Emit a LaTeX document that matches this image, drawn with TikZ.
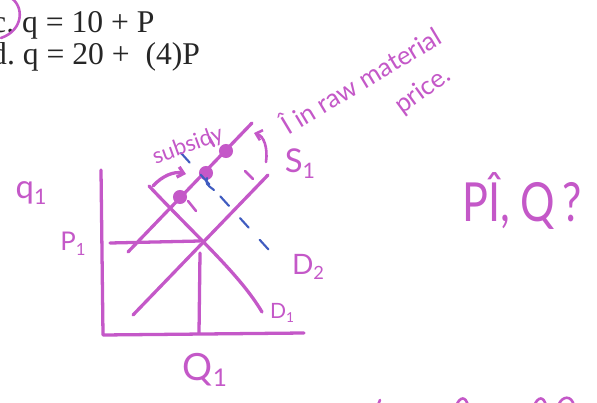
\documentclass[tikz,border=0pt]{standalone}
\usepackage{fontspec}
\setmainfont{Liberation Serif}
\newfontfamily\hand{Lato}
\usetikzlibrary{arrows.meta}
\definecolor{ink}{RGB}{196,88,200}
\definecolor{bink}{RGB}{64,92,192}
\newcommand\hsub[1]{\raisebox{-0.35ex}{\scalebox{0.65}{#1}}}
\begin{document}
\begin{tikzpicture}[x=0.03cm,y=-0.03cm,
  pen/.style={draw=ink,line width=2.8pt,line cap=round,line join=round},
  thinpen/.style={draw=ink,line width=2.2pt,line cap=round},
  bluepen/.style={draw=bink,line width=1.8pt,line cap=round},
  printed/.style={anchor=base west,inner sep=0pt,font=\fontsize{27}{27}\selectfont,text=black!85},
  hw/.style={inner sep=0pt,text=ink,font=\hand\fontsize{#1}{#1}\selectfont},
  dot/.style={circle,fill=ink,inner sep=0pt,minimum size=12pt}]
\useasboundingbox (0,0) rectangle (597,403);
\clip (0,0) rectangle (597,403);
\fill[white] (0,0) rectangle (597,403);

% printed lines
\node[printed] (lc) at (-8,33) {c.\ q = 10 + P};
\node[printed] (ld) at (-9,65) {d.\ q = 20 +\ \ (4)P};
\draw[thinpen] (11,-2) .. controls (24,6) and (24,30) .. (1,38);

% axes
\coordinate (ytop) at (101,170);
\coordinate (orig) at (103,335);
\coordinate (xend) at (304,333);
\draw[pen] (ytop) -- (orig) -- (xend);

% supply S1
\coordinate (s1a) at (133,315);
\coordinate (s1b) at (268,175);
\draw[pen] (s1a) -- (s1b);

% demand D1
\coordinate (d1a) at (149,186);
\coordinate (d1b) at (262,312);
\draw[pen] (d1a) .. controls (200,240) and (240,275) .. (d1b);

% P1 and Q1 guide lines
\coordinate (p1a) at (110,243);
\coordinate (p1b) at (200,241);
\draw[pen] (p1a) -- (p1b);
\coordinate (q1a) at (200,253);
\coordinate (q1b) at (199,333);
\draw[pen] (q1a) -- (q1b);

% shifted supply with dots
\coordinate (s2a) at (128,252);
\coordinate (s2b) at (252,123);
\draw[pen] (s2a) -- (s2b);
\node[dot] (dA) at (180,197) {};
\node[dot] (dB) at (206,173) {};
\node[dot] (dC) at (226,151) {};

% subsidy arrow
\coordinate (ar1) at (153,186);
\coordinate (ar2) at (186,174);
\draw[pen,-{Straight Barb[length=5pt,width=9pt]}] (ar1) .. controls (162,176) and (174,171) .. (ar2);

% small ticks
\draw[thinpen] (209,137) -- (214,146);
\draw[thinpen] (188,201) -- (196,211);
\draw[thinpen] (245,171) -- (253,179);
\draw[bluepen] (207,178) .. controls (206,184) .. (214,190);

% demand D2 (blue dashed)
\coordinate (d2a) at (181,153);
\coordinate (d2b) at (278,260);
\draw[bluepen,dash pattern=on 11pt off 14pt] (d2a) -- (d2b);

% curved arrow near S1
\coordinate (ca1) at (266,162);
\coordinate (ca2) at (254,133);
\draw[thinpen,-{Straight Barb[length=5pt,width=9pt]}] (ca1) .. controls (268,148) and (264,136) .. (ca2);

% handwritten labels
\node[hw=19,rotate=20] (sub) at (188,146) {subsidy};
\node[hw=22,rotate=31] (raw) at (360,79) {Î in raw material};
\node[hw=22,rotate=36] (price) at (423,91) {price.};
\node[hw=28] (S1) at (300,164) {S\hsub{1}};
\node[hw=28] (q1) at (31,193) {q\hsub{1}};
\node[hw=22] (P1) at (73,244) {P\hsub{1}};
\node[hw=24] (D2) at (308,267) {D\hsub{2}};
\node[hw=18] (D1) at (282,313) {D\hsub{1}};
\node[hw=32] (Q1) at (205,370) {Q\hsub{1}};
\node[hw=46,xscale=0.8] (PQ) at (522,201) {PÎ, Q\,?};

% cut-off writing at bottom right
\draw[thinpen] (378,405) -- (380,400);
\draw[thinpen] (456,406) .. controls (460,396) and (466,396) .. (468,406);
\draw[thinpen] (534,406) .. controls (538,396) and (544,396) .. (546,406);
\draw[thinpen] (558,406) .. controls (562,395) and (572,395) .. (574,406);
\end{tikzpicture}
\end{document}
